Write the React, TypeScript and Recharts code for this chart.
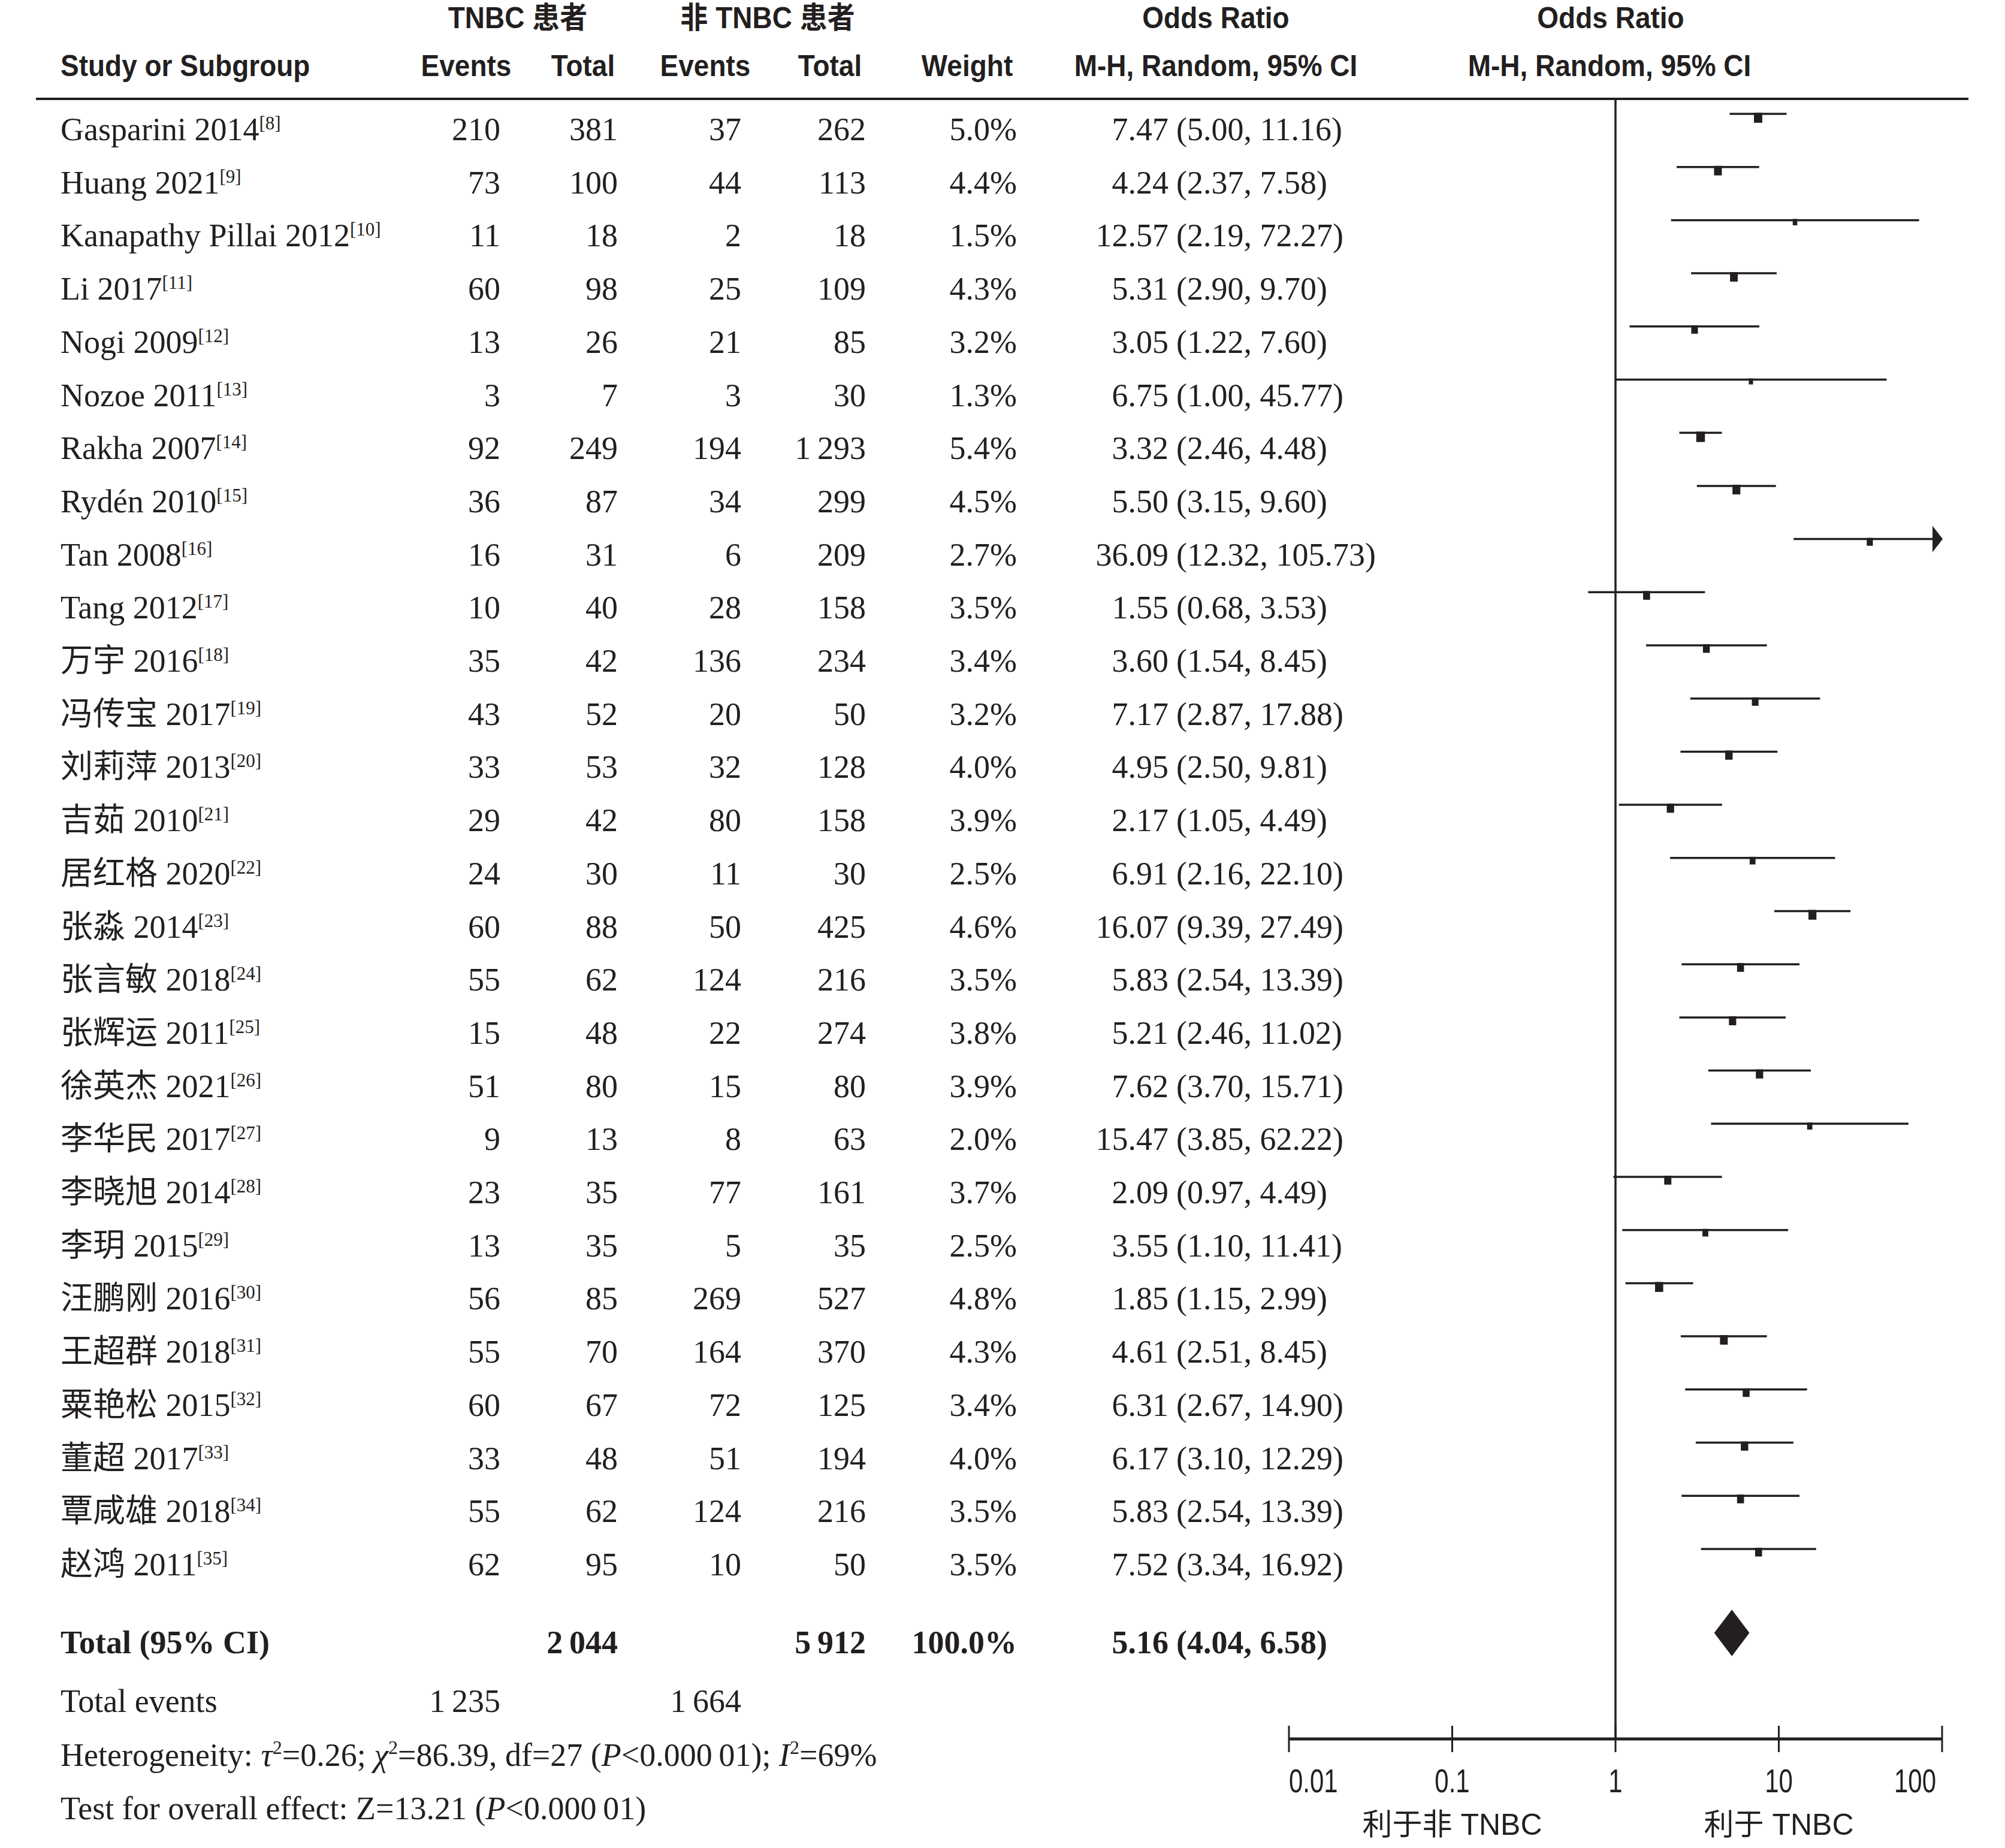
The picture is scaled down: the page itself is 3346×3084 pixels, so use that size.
import React from 'react';
import { ScatterChart, Scatter, XAxis, YAxis, ReferenceLine, ReferenceDot, Customized } from 'recharts';

const INK = '#231f20';
const SERIF = '"Liberation Serif", "Noto Sans CJK SC", serif';
const SANS = '"Liberation Sans", "Noto Sans CJK SC", sans-serif';

// ---------- data ----------
const studyNames = [
  'Gasparini 2014', 'Huang 2021', 'Kanapathy Pillai 2012', 'Li 2017', 'Nogi 2009', 'Nozoe 2011',
  'Rakha 2007', 'Rydén 2010', 'Tan 2008', 'Tang 2012', '万宇 2016', '冯传宝 2017', '刘莉萍 2013',
  '吉茹 2010', '居红格 2020', '张淼 2014', '张言敏 2018', '张辉运 2011', '徐英杰 2021', '李华民 2017',
  '李晓旭 2014', '李玥 2015', '汪鹏刚 2016', '王超群 2018', '粟艳松 2015', '董超 2017', '覃咸雄 2018', '赵鸿 2011',
];
const studyRefs = [8, 9, 10, 11, 12, 13, 14, 15, 16, 17, 18, 19, 20, 21, 22, 23, 24, 25, 26, 27, 28, 29, 30, 31, 32, 33, 34, 35];
const tnbcEvents = [210, 73, 11, 60, 13, 3, 92, 36, 16, 10, 35, 43, 33, 29, 24, 60, 55, 15, 51, 9, 23, 13, 56, 55, 60, 33, 55, 62];
const tnbcTotal = [381, 100, 18, 98, 26, 7, 249, 87, 31, 40, 42, 52, 53, 42, 30, 88, 62, 48, 80, 13, 35, 35, 85, 70, 67, 48, 62, 95];
const nonEvents = [37, 44, 2, 25, 21, 3, 194, 34, 6, 28, 136, 20, 32, 80, 11, 50, 124, 22, 15, 8, 77, 5, 269, 164, 72, 51, 124, 10];
const nonTotal = [262, 113, 18, 109, 85, 30, 1293, 299, 209, 158, 234, 50, 128, 158, 30, 425, 216, 274, 80, 63, 161, 35, 527, 370, 125, 194, 216, 50];
const weights = [5.0, 4.4, 1.5, 4.3, 3.2, 1.3, 5.4, 4.5, 2.7, 3.5, 3.4, 3.2, 4.0, 3.9, 2.5, 4.6, 3.5, 3.8, 3.9, 2.0, 3.7, 2.5, 4.8, 4.3, 3.4, 4.0, 3.5, 3.5];
const oddsRatio = [7.47, 4.24, 12.57, 5.31, 3.05, 6.75, 3.32, 5.50, 36.09, 1.55, 3.60, 7.17, 4.95, 2.17, 6.91, 16.07, 5.83, 5.21, 7.62, 15.47, 2.09, 3.55, 1.85, 4.61, 6.31, 6.17, 5.83, 7.52];
const ciLow = [5.00, 2.37, 2.19, 2.90, 1.22, 1.00, 2.46, 3.15, 12.32, 0.68, 1.54, 2.87, 2.50, 1.05, 2.16, 9.39, 2.54, 2.46, 3.70, 3.85, 0.97, 1.10, 1.15, 2.51, 2.67, 3.10, 2.54, 3.34];
const ciHigh = [11.16, 7.58, 72.27, 9.70, 7.60, 45.77, 4.48, 9.60, 105.73, 3.53, 8.45, 17.88, 9.81, 4.49, 22.10, 27.49, 13.39, 11.02, 15.71, 62.22, 4.49, 11.41, 2.99, 8.45, 14.90, 12.29, 13.39, 16.92];

const totalTnbc = 2044;
const totalNon = 5912;
const totalWeight = 100.0;
const pooledOR = 5.16;
const pooledLow = 4.04;
const pooledHigh = 6.58;
const totalEventsTnbc = 1235;
const totalEventsNon = 1664;

const xTicks = [0.01, 0.1, 1, 10, 100];
const xTickLabels = ['0.01', '0.1', '1', '10', '100'];
const favourLabels: Record<number, string> = { 1: '利于非 TNBC', 3: '利于 TNBC' };

// ---------- layout ----------
const W = 3346;
const H = 3084;
const X_MIN = 0.01;
const X_MAX = 100;
const TOTAL_ROW = 28.58;
const DIAMOND_HALF = 0.43;
const Y_DOMAIN: [number, number] = [-0.282, 30.575];

const fmtInt = (n: number) =>
  n >= 1000 ? `${Math.floor(n / 1000)}\u2009${String(n % 1000).padStart(3, '0')}` : String(n);

const COL = {
  name: 101,
  tEv: 835,
  tTot: 1031,
  nEv: 1237,
  nTot: 1445,
  weight: 1697,
  orEnd: 1950,
  ciStart: 1963,
};

const studyPoints = studyNames.map((_, i) => ({ x: oddsRatio[i], y: i, w: weights[i] }));
const diamondPoints = [
  { x: pooledLow, y: TOTAL_ROW },
  { x: pooledOR, y: TOTAL_ROW - DIAMOND_HALF },
  { x: pooledHigh, y: TOTAL_ROW },
  { x: pooledOR, y: TOTAL_ROW + DIAMOND_HALF },
];
const yTicks = [...studyNames.map((_, i) => i), TOTAL_ROW];

// ---------- helpers ----------
const SText = ({ x, y, anchor = 'start', size, sx = 1, weight = 'normal', family = SANS, children }: any) => (
  <text
    transform={`translate(${x},${y}) scale(${sx},1)`}
    textAnchor={anchor}
    fontSize={size}
    fontWeight={weight}
    fontFamily={family}
    fill={INK}
    style={{ whiteSpace: 'pre' }}
  >
    {children}
  </text>
);

const RowTick = (props: any) => {
  const { y, index } = props;
  if (index < studyNames.length) {
    const i = index;
    const b = y + 44;
    return (
      <g fill={INK} fontFamily={SERIF} fontSize={54}>
        <text x={COL.name} y={b} fill={INK}>
          {studyNames[i]}
          <tspan fontSize={31} dy={-18}>[{studyRefs[i]}]</tspan>
        </text>
        <text x={COL.tEv} y={b} textAnchor="end" fill={INK}>{fmtInt(tnbcEvents[i])}</text>
        <text x={COL.tTot} y={b} textAnchor="end" fill={INK}>{fmtInt(tnbcTotal[i])}</text>
        <text x={COL.nEv} y={b} textAnchor="end" fill={INK}>{fmtInt(nonEvents[i])}</text>
        <text x={COL.nTot} y={b} textAnchor="end" fill={INK}>{fmtInt(nonTotal[i])}</text>
        <text x={COL.weight} y={b} textAnchor="end" fill={INK}>{weights[i].toFixed(1)}%</text>
        <text x={COL.orEnd} y={b} textAnchor="end" fill={INK}>{oddsRatio[i].toFixed(2)}</text>
        <text x={COL.ciStart} y={b} fill={INK}>({ciLow[i].toFixed(2)}, {ciHigh[i].toFixed(2)})</text>
      </g>
    );
  }
  const b = y + 34;
  return (
    <g fill={INK} fontFamily={SERIF} fontSize={54} fontWeight="bold">
      <text x={COL.name} y={b} fill={INK}>Total (95% CI)</text>
      <text x={COL.tTot} y={b} textAnchor="end" fill={INK}>{fmtInt(totalTnbc)}</text>
      <text x={COL.nTot} y={b} textAnchor="end" fill={INK}>{fmtInt(totalNon)}</text>
      <text x={COL.weight} y={b} textAnchor="end" fill={INK}>{totalWeight.toFixed(1)}%</text>
      <text x={COL.orEnd} y={b} textAnchor="end" fill={INK}>{pooledOR.toFixed(2)}</text>
      <text x={COL.ciStart} y={b} fill={INK}>({pooledLow.toFixed(2)}, {pooledHigh.toFixed(2)})</text>
    </g>
  );
};

const AxisTick = (props: any) => {
  const { x, y, index } = props;
  const last = xTicks.length - 1;
  const anchor = index === 0 ? 'start' : index === last ? 'end' : 'middle';
  const lx = index === last ? x - 10 : x;
  return (
    <g>
      <line x1={x} x2={x} y1={y - 22} y2={y + 22} stroke={INK} strokeWidth={3} />
      <SText x={lx} y={y + 89} anchor={anchor} size={56} sx={0.75}>{xTickLabels[index]}</SText>
      {favourLabels[index] ? (
        <SText x={x} y={y + 160} anchor="middle" size={50}>{favourLabels[index]}</SText>
      ) : null}
    </g>
  );
};

const Square = (props: any) => {
  const { cx, cy, payload } = props;
  const s = 6.2 * Math.sqrt(payload.w);
  return <rect x={cx - s / 2} y={cy - 2} width={s} height={s + 3} fill={INK} />;
};

const ArrowHead = (props: any) => {
  const { cx, cy } = props;
  return <path d={`M${cx - 16},${cy - 22} L${cx + 1},${cy} L${cx - 16},${cy + 22} Z`} fill={INK} />;
};

const DiamondLine = (p: any) => {
  const pts = p.points || [];
  const d = pts.map((pt: any, i: number) => `${i ? 'L' : 'M'}${pt.x},${pt.y}`).join(' ') + ' Z';
  return <path d={d} fill={INK} stroke={INK} strokeWidth={1} />;
};

const HeaderFooter = () => (
  <g>
    <line x1={60} x2={3285} y1={165} y2={165} stroke={INK} strokeWidth={4} />
    <SText x={864} y={47} anchor="middle" size={50} sx={0.92} weight="bold">TNBC 患者</SText>
    <SText x={1281} y={47} anchor="middle" size={50} sx={0.92} weight="bold">非 TNBC 患者</SText>
    <SText x={2029} y={47} anchor="middle" size={50} sx={0.92} weight="bold">Odds Ratio</SText>
    <SText x={2688} y={47} anchor="middle" size={50} sx={0.92} weight="bold">Odds Ratio</SText>
    <SText x={101} y={127} size={50} sx={0.92} weight="bold">Study or Subgroup</SText>
    <SText x={778} y={127} anchor="middle" size={50} sx={0.92} weight="bold">Events</SText>
    <SText x={973} y={127} anchor="middle" size={50} sx={0.92} weight="bold">Total</SText>
    <SText x={1177} y={127} anchor="middle" size={50} sx={0.92} weight="bold">Events</SText>
    <SText x={1385} y={127} anchor="middle" size={50} sx={0.92} weight="bold">Total</SText>
    <SText x={1614} y={127} anchor="middle" size={50} sx={0.92} weight="bold">Weight</SText>
    <SText x={2029} y={127} anchor="middle" size={50} sx={0.92} weight="bold">M-H, Random, 95% CI</SText>
    <SText x={2686} y={127} anchor="middle" size={50} sx={0.92} weight="bold">M-H, Random, 95% CI</SText>

    <SText x={COL.name} y={2857} size={54} family={SERIF}>Total events</SText>
    <SText x={COL.tEv} y={2857} anchor="end" size={54} family={SERIF}>{fmtInt(totalEventsTnbc)}</SText>
    <SText x={COL.nEv} y={2857} anchor="end" size={54} family={SERIF}>{fmtInt(totalEventsNon)}</SText>
    <SText x={COL.name} y={2947} size={54} family={SERIF}>
      <tspan>Heterogeneity: </tspan>
      <tspan fontStyle="italic">τ</tspan>
      <tspan fontSize={32} dy={-20}>2</tspan>
      <tspan dy={20}>=0.26; </tspan>
      <tspan fontStyle="italic">χ</tspan>
      <tspan fontSize={32} dy={-20}>2</tspan>
      <tspan dy={20}>=86.39, df=27 (</tspan>
      <tspan fontStyle="italic">P</tspan>
      <tspan>{'<0.000\u200901); '}</tspan>
      <tspan fontStyle="italic">I</tspan>
      <tspan fontSize={32} dy={-20}>2</tspan>
      <tspan dy={20}>=69%</tspan>
    </SText>
    <SText x={COL.name} y={3036} size={54} family={SERIF}>
      <tspan>Test for overall effect: Z=13.21 (</tspan>
      <tspan fontStyle="italic">P</tspan>
      <tspan>{'<0.000\u200901)'}</tspan>
    </SText>
  </g>
);

export default function App() {
  return (
    <div style={{ position: 'absolute', left: 0, top: 0, width: W, height: H, background: '#fff' }}>
      <ScatterChart width={W} height={H} margin={{ top: 165, right: 105, bottom: 32, left: 0 }}>
        <XAxis
          type="number"
          dataKey="x"
          scale="log"
          domain={[X_MIN, X_MAX]}
          allowDataOverflow
          ticks={xTicks}
          interval={0}
          tick={AxisTick}
          tickSize={0}
          tickMargin={0}
          tickLine={false}
          axisLine={{ stroke: INK, strokeWidth: 5 }}
          height={150}
        />
        <YAxis
          type="number"
          dataKey="y"
          domain={Y_DOMAIN}
          reversed
          allowDataOverflow
          ticks={yTicks}
          interval={0}
          tick={RowTick}
          axisLine={false}
          tickLine={false}
          width={2151}
        />
        <ReferenceLine x={1} stroke={INK} strokeWidth={3.5} />
        {studyNames.map((_, i) => (
          <ReferenceLine
            key={`ci-${i}`}
            segment={[
              { x: Math.max(ciLow[i], X_MIN), y: i },
              { x: Math.min(ciHigh[i], X_MAX), y: i },
            ]}
            stroke={INK}
            strokeWidth={3.5}
            ifOverflow="visible"
          />
        ))}
        {studyNames.map((_, i) =>
          ciHigh[i] > X_MAX ? (
            <ReferenceDot key={`arrow-${i}`} x={X_MAX} y={i} r={1} shape={ArrowHead} ifOverflow="visible" />
          ) : null
        )}
        <Scatter data={studyPoints} shape={Square} isAnimationActive={false} fill={INK} />
        <Scatter
          data={diamondPoints}
          shape={() => <g />}
          line={DiamondLine}
          lineType="joint"
          fill={INK}
          isAnimationActive={false}
        />
        <Customized component={HeaderFooter} />
      </ScatterChart>
    </div>
  );
}
